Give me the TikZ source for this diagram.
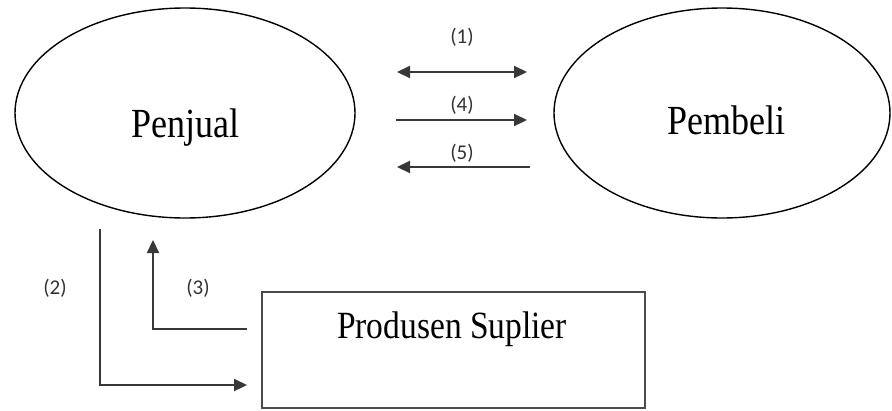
\documentclass[tikz,border=0pt]{standalone}
\usepackage{fontspec}
\setmainfont{Liberation Serif}
\newfontfamily\lblfont{Carlito}
\usetikzlibrary{shapes.geometric,arrows.meta}
\tikzset{
  oval/.style={ellipse, draw=black, line width=1.4pt, inner sep=0pt},
  boxnode/.style={rectangle, draw=black!70, line width=2.2pt, inner sep=0pt},
  tip/.tip={Triangle[length=13pt,width=12pt]},
  conn/.style={draw=black!78, line width=2.2pt, -tip},
  lbl/.style={font=\lblfont\fontsize{21}{24}\selectfont, text=black!80, inner sep=0pt},
  bigtext/.style={font=\fontsize{36}{40}\selectfont, inner sep=0pt, anchor=base, yscale=1.15}
}
\begin{document}
\begin{tikzpicture}[x=1pt,y=-1pt]
\useasboundingbox (0,0) rectangle (892,410);
% shapes
\node[oval, minimum width=340pt, minimum height=210pt] (penjual) at (185,113) {};
\node[oval, minimum width=336pt, minimum height=210pt] (pembeli) at (722,113) {};
\node[boxnode, minimum width=383pt, minimum height=116pt] (prod) at (453.5,350) {};
% texts
\node[bigtext] (tpenjual) at (185,137) {Penjual};
\node[bigtext] (tpembeli) at (726,134) {Pembeli};
\node[bigtext, font=\fontsize{33.5}{38}\selectfont] (tprod) at (452,338) {Produsen Suplier};
% arrow end points
\coordinate (a1l) at (397,72);  \coordinate (a1r) at (527,72);
\coordinate (a4l) at (396,120); \coordinate (a4r) at (527,120);
\coordinate (a5l) at (397,167); \coordinate (a5r) at (530,167);
\coordinate (c2s) at (100,229); \coordinate (c2e) at (247,385);
\coordinate (c3s) at (247,329); \coordinate (c3e) at (153,240);
% connectors
\draw[conn, tip-tip] (a1l) -- (a1r);
\draw[conn] (a4l) -- (a4r);
\draw[conn] (a5r) -- (a5l);
\draw[conn] (c2s) |- (c2e);
\draw[conn] (c3s) -| (c3e);
% labels
\node[lbl] (l1) at (462,37) {(1)};
\node[lbl] (l4) at (462,105) {(4)};
\node[lbl] (l5) at (462,153) {(5)};
\node[lbl] (l2) at (55,288) {(2)};
\node[lbl] (l3) at (198,288) {(3)};
\end{tikzpicture}
\end{document}
